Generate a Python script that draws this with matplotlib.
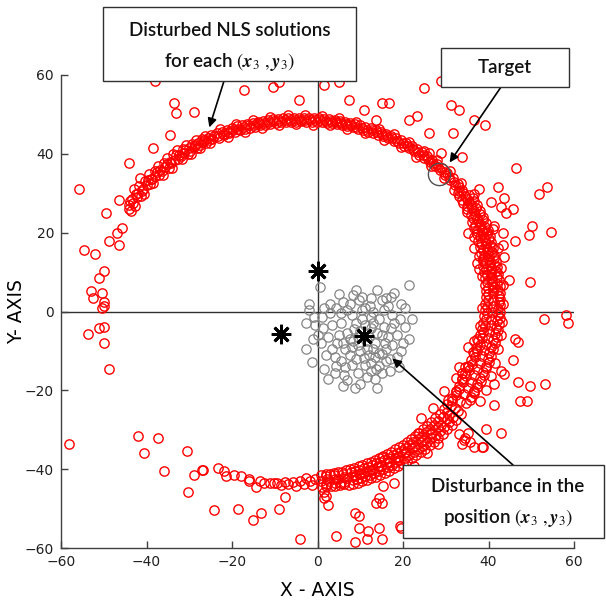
import numpy as np
import matplotlib
matplotlib.use('Agg')
import matplotlib.pyplot as plt
from matplotlib.patches import Rectangle

plt.rcParams['mathtext.fontset'] = 'stix'

# ---- data ----
# dense ring of NLS solutions (upper left part)
ring_upper_left = [(-44.2, 26.1), (-43.6, 25.6), (-43.9, 28.0), (-43.1, 27.4), (-42.5, 29.8), (-42.8, 26.7),
                   (-41.9, 30.0), (-41.4, 29.3), (-41.7, 31.9), (-40.8, 31.1), (-40.3, 33.1), (-40.6, 29.8),
                   (-39.7, 33.3), (-39.2, 32.4), (-39.5, 34.9), (-38.6, 33.7), (-38.1, 35.6), (-38.4, 32.7),
                   (-37.5, 35.5), (-37.0, 34.6), (-37.3, 37.0), (-36.4, 35.7), (-35.9, 37.6), (-36.2, 34.6),
                   (-35.3, 37.4), (-34.8, 36.5), (-35.1, 38.9), (-34.2, 37.6), (-33.7, 39.9), (-34.0, 36.5),
                   (-33.1, 39.6), (-32.6, 38.7), (-32.9, 40.9), (-32.0, 39.5), (-31.5, 41.3), (-31.8, 38.6),
                   (-30.9, 41.0), (-30.4, 40.0), (-30.7, 42.2), (-29.8, 40.8), (-29.3, 42.5), (-29.6, 39.9),
                   (-28.7, 42.2), (-28.2, 41.4), (-28.5, 43.4), (-27.6, 42.2), (-27.1, 43.7), (-27.4, 41.5),
                   (-26.5, 43.6), (-26.0, 42.7), (-26.3, 44.5), (-25.4, 43.5), (-24.9, 44.9), (-25.2, 42.8),
                   (-24.3, 44.6),
                   (-44.0, 27.0), (-43.3, 28.6), (-42.2, 29.0), (-41.1, 30.6), (-40.0, 32.0), (-39.0, 33.6),
                   (-37.9, 34.5), (-36.8, 36.0), (-35.6, 36.7), (-34.5, 38.0), (-33.4, 38.5), (-32.3, 39.6),
                   (-31.2, 40.3), (-30.1, 41.4), (-29.0, 41.7), (-27.9, 42.8), (-26.8, 43.0), (-25.7, 44.0),
                   (-24.6, 43.7)]

ring_top = [(-23.6, 45.2), (-23.0, 44.1), (-22.4, 45.6), (-21.8, 44.7), (-21.2, 46.1), (-20.6, 45.2),
            (-20.0, 46.6), (-19.4, 45.6), (-18.8, 47.0), (-18.2, 46.0), (-17.6, 47.3), (-17.0, 46.3),
            (-16.4, 47.6), (-15.8, 46.6), (-15.2, 47.9), (-14.6, 46.9), (-14.0, 48.1), (-13.4, 47.2),
            (-12.8, 48.4), (-12.2, 47.4), (-11.6, 48.6), (-11.0, 47.6), (-10.4, 48.8), (-9.8, 47.8),
            (-9.2, 48.9), (-8.6, 48.0), (-8.0, 49.0), (-7.4, 48.1), (-6.8, 49.1), (-6.2, 48.2),
            (-5.6, 49.1), (-5.0, 48.2), (-4.4, 49.2), (-3.8, 48.3), (-3.2, 49.1), (-2.6, 48.2),
            (-2.0, 49.1), (-1.4, 48.2), (-0.8, 49.0), (-0.2, 48.1), (0.4, 49.0), (1.0, 48.0),
            (1.6, 48.9), (2.2, 47.9), (2.8, 48.8), (3.4, 47.8), (4.0, 48.6), (4.6, 47.6),
            (5.2, 48.4), (5.8, 47.4), (6.4, 48.2), (7.0, 47.1), (7.6, 47.9), (8.2, 46.8),
            (8.8, 47.5), (9.4, 46.4), (10.0, 47.2), (10.6, 46.0), (11.2, 46.7), (11.8, 45.6),
            (-23.3, 44.5), (-22.1, 45.0), (-20.9, 45.5), (-19.7, 46.0), (-18.5, 46.4), (-17.3, 46.8),
            (-16.1, 47.2), (-14.9, 47.4), (-13.7, 47.7), (-12.5, 47.9), (-11.3, 48.1), (-10.1, 48.3),
            (-8.9, 48.4), (-7.7, 48.6), (-6.5, 48.6), (-5.3, 48.7), (-4.1, 48.7), (-2.9, 48.7),
            (-1.7, 48.6), (-0.5, 48.6), (0.7, 48.5), (1.9, 48.4), (3.1, 48.3), (4.3, 48.1),
            (5.5, 47.9), (6.7, 47.6), (7.9, 47.3), (9.1, 46.9), (10.3, 46.5), (11.5, 46.1),
            (-22.8, 46.3), (-19.0, 47.6), (-15.0, 48.6), (-11.0, 49.3), (-7.0, 49.8), (-3.0, 49.8),
            (1.0, 49.7), (5.0, 49.2), (9.0, 48.2), (-21.0, 44.3), (-17.0, 45.6), (-13.0, 46.6),
            (-9.0, 47.2), (-5.0, 47.5), (-1.0, 47.4), (3.0, 47.2), (7.0, 46.4), (11.0, 45.2)]

ring_upper_right = [(12.4, 46.6), (13.0, 45.4), (13.6, 46.0), (14.2, 44.9), (14.8, 45.6), (15.4, 44.4),
                    (16.0, 45.1), (16.6, 43.9), (17.2, 44.6), (17.8, 43.3), (18.4, 44.0), (19.0, 42.7),
                    (19.6, 43.4), (20.2, 42.1), (20.8, 42.7), (21.4, 41.4), (22.0, 42.0), (22.6, 40.6),
                    (23.2, 41.2), (23.8, 39.8), (24.4, 40.4), (25.0, 38.9), (25.6, 39.5), (26.2, 38.0),
                    (26.8, 38.5), (27.4, 36.9), (28.0, 37.5), (28.6, 35.8), (29.2, 36.3), (29.8, 34.6),
                    (30.4, 35.1), (31.0, 33.3), (31.6, 33.8), (32.2, 32.0), (32.8, 32.3), (33.2, 30.6),
                    (33.8, 30.9),
                    (12.7, 46.0), (13.9, 45.5), (15.1, 45.0), (16.3, 44.5), (17.5, 43.9), (18.7, 43.3),
                    (19.9, 42.7), (21.1, 42.0), (22.3, 41.3), (23.5, 40.5), (24.7, 39.7), (25.9, 38.7),
                    (27.1, 37.7), (28.3, 36.6), (29.5, 35.4), (30.7, 34.2), (31.9, 32.9), (33.0, 31.5),
                    (34.0, 30.0), (14.5, 46.4), (18.0, 45.0), (21.5, 43.0), (25.0, 40.6), (28.0, 38.4),
                    (31.0, 35.6), (33.5, 32.5), (15.5, 43.6), (19.5, 41.7), (23.0, 39.2), (26.5, 36.8),
                    (29.5, 33.8), (32.0, 30.8)]

ring_right = [(32.9, 30.0), (35.4, 29.5), (33.1, 29.2), (36.3, 28.8), (33.8, 28.4), (36.5, 28.0),
              (34.0, 27.6), (37.2, 27.1), (35.0, 26.8), (37.0, 26.3), (35.0, 26.0), (38.0, 25.6),
              (34.9, 25.2), (38.1, 24.7), (35.9, 24.4), (38.7, 24.0), (36.3, 23.6), (38.6, 23.1),
              (36.2, 22.8), (39.3, 22.4), (36.9, 22.0), (39.2, 21.5), (36.7, 21.2), (39.9, 20.8),
              (37.4, 20.4), (39.7, 19.9), (37.2, 19.6), (40.3, 19.2), (37.9, 18.8), (40.2, 18.3),
              (37.6, 18.0), (40.7, 17.6), (38.2, 17.2), (40.6, 16.7), (38.0, 16.4), (41.1, 16.0),
              (38.6, 15.6), (40.9, 15.1), (38.3, 14.8), (41.4, 14.4), (38.9, 14.0), (41.2, 13.5),
              (38.6, 13.2), (41.8, 12.8), (39.2, 12.4), (41.5, 11.9), (38.8, 11.6), (42.0, 11.2),
              (39.4, 10.8), (41.7, 10.3), (39.0, 10.0), (42.3, 9.6), (39.6, 9.2), (41.9, 8.7),
              (39.1, 8.4), (42.4, 8.0), (39.7, 7.6), (42.1, 7.1), (39.2, 6.8), (42.6, 6.4),
              (39.8, 6.0), (42.3, 5.5), (39.3, 5.2), (42.7, 4.8), (39.9, 4.4), (42.4, 3.9),
              (39.3, 3.6), (42.8, 3.2), (39.8, 2.8), (42.4, 2.3), (39.2, 2.0), (42.8, 1.6),
              (39.7, 1.2), (42.3, 0.7), (39.1, 0.4), (42.7, 0.0), (39.6, -0.4), (42.2, -0.9),
              (38.9, -1.2), (42.6, -1.6), (39.4, -2.0), (42.0, -2.5), (38.7, -2.8), (42.4, -3.2),
              (39.1, -3.6), (41.8, -4.1), (38.4, -4.4), (42.2, -4.8), (38.8, -5.2), (41.5, -5.7),
              (38.0, -6.0), (41.9, -6.4), (38.4, -6.8), (41.1, -7.3), (37.6, -7.6), (41.5, -8.0),
              (37.9, -8.4), (40.7, -8.9), (37.1, -9.2), (41.0, -9.6), (37.4, -10.0), (40.2, -10.5),
              (36.5, -10.8), (40.5, -11.2), (36.8, -11.6), (39.8, -12.1), (35.9, -12.4), (40.0, -12.8),
              (36.2, -13.2), (39.3, -13.7), (35.2, -14.0), (39.5, -14.4), (35.5, -14.8), (38.7, -15.3),
              (34.6, -15.6), (38.9, -16.0), (34.8, -16.4), (38.1, -16.9), (33.9, -17.2), (38.2, -17.6),
              (34.0, -18.0), (37.4, -18.5), (33.1, -18.8), (37.4, -19.2), (33.2, -19.6), (36.6, -20.1),
              (32.3, -20.4), (36.6, -20.8), (32.3, -21.2), (35.8, -21.7), (31.4, -22.0), (35.7, -22.4),
              (31.4, -22.8), (34.8, -23.3),
              (41.1, 4.6), (41.0, 3.0), (41.1, 1.4), (40.9, -0.2), (40.7, -1.8), (40.5, -3.4),
              (40.2, -5.0), (39.9, -6.6), (39.4, -8.2), (38.9, -9.8), (38.4, -11.4), (37.9, -13.0),
              (37.2, -14.6), (36.6, -16.2), (35.9, -17.8), (35.1, -19.4), (34.3, -21.0), (33.3, -22.6),
              (34.4, 29.4), (34.9, 28.6), (35.4, 27.8), (35.8, 27.0), (36.2, 26.2), (36.6, 25.4),
              (36.9, 24.6), (37.3, 23.8), (37.6, 23.0), (37.9, 22.2), (38.1, 21.4), (38.4, 20.6),
              (38.6, 19.8), (38.9, 19.0), (39.1, 18.2), (39.3, 17.4), (39.5, 16.6), (39.6, 15.8),
              (39.8, 15.0), (40.0, 14.2), (40.1, 13.4), (40.3, 12.6), (40.4, 11.8), (40.5, 11.0),
              (40.6, 10.2), (40.7, 9.4), (40.8, 8.6), (40.9, 7.8), (40.9, 7.0), (41.0, 6.2),
              (41.0, 5.4),
              (43.4, 2.0), (43.2, -2.6), (42.9, -6.0), (42.3, -9.6), (41.6, -13.0), (40.6, -16.4),
              (39.4, -19.8), (38.0, -22.6), (43.5, 6.8), (43.0, 11.0), (42.2, 16.0), (41.0, 21.0),
              (38.4, 1.0), (38.0, -3.6), (37.3, -7.0), (36.4, -10.4), (35.2, -13.8), (33.8, -17.0),
              (32.3, -20.2), (30.6, -22.4), (38.5, 9.0), (37.8, 14.0), (36.5, 19.0)]

ring_lower_right = [(30.4, -23.5), (33.6, -25.9), (32.2, -24.5), (29.5, -24.8), (32.5, -27.4), (30.8, -26.3),
                    (28.6, -26.0), (31.4, -28.8), (30.2, -27.2), (27.6, -27.1), (30.4, -29.9), (28.8, -28.7),
                    (26.6, -28.0), (29.4, -31.0), (28.2, -29.3), (25.7, -29.0), (28.3, -32.0), (26.8, -30.7),
                    (24.7, -29.8), (27.3, -33.0), (26.2, -31.2), (23.8, -30.7), (26.2, -33.9), (24.8, -32.5),
                    (22.8, -31.6), (25.2, -34.8), (24.2, -33.0), (21.9, -32.3), (24.1, -35.7), (22.8, -34.2),
                    (21.0, -33.1), (23.0, -36.5), (22.2, -34.6), (20.0, -33.8), (22.0, -37.2), (20.8, -35.7),
                    (19.1, -34.4), (20.9, -38.0), (20.2, -36.0), (18.1, -35.0), (19.9, -38.6), (18.8, -37.0),
                    (17.2, -35.6), (18.8, -39.2), (18.2, -37.2), (16.2, -36.2), (17.8, -39.8), (16.8, -38.2),
                    (15.3, -36.6), (16.7, -40.4), (16.2, -38.3), (14.3, -37.1), (15.7, -40.9), (14.8, -39.2),
                    (13.4, -37.6), (14.6, -41.4), (14.2, -39.3), (12.4, -38.1), (13.6, -41.9), (12.8, -40.2),
                    (11.5, -38.5), (12.5, -42.3), (12.2, -40.2), (10.5, -38.9), (11.5, -42.7), (10.8, -41.0),
                    (9.6, -39.3), (10.4, -43.1), (10.2, -41.0), (8.6, -39.6), (9.4, -43.4), (8.8, -41.7),
                    (7.7, -39.9), (8.3, -43.7), (8.2, -41.6), (6.7, -40.1), (7.3, -43.9), (6.8, -42.2),
                    (5.8, -40.6), (6.2, -43.8), (6.2, -42.0), (4.8, -40.8), (5.2, -44.0), (4.8, -42.6),
                    (3.9, -41.0), (4.1, -44.2), (4.2, -42.4), (2.9, -41.2), (3.1, -44.2), (2.8, -42.9),
                    (1.9, -41.3), (2.1, -44.3), (2.2, -42.6), (0.9, -41.4), (1.1, -44.4), (0.8, -43.1),
                    (31.2, -24.1), (32.8, -25.3), (29.3, -26.7), (30.7, -28.1), (27.3, -28.8), (28.7, -30.2),
                    (25.4, -30.6), (26.6, -32.2), (23.4, -32.4), (24.6, -34.0), (21.5, -33.9), (22.5, -35.7),
                    (19.5, -35.3), (20.5, -37.1), (17.6, -36.5), (18.4, -38.3), (15.6, -37.6), (16.4, -39.4),
                    (13.7, -38.5), (14.3, -40.5), (11.7, -39.4), (12.3, -41.4), (9.8, -40.2), (10.2, -42.2),
                    (7.8, -40.8), (8.2, -42.8), (5.9, -41.2), (6.1, -43.2), (3.9, -41.6), (4.1, -43.6),
                    (1.9, -41.8), (2.1, -43.8), (30.2, -25.4), (31.8, -26.8), (28.3, -27.8), (29.7, -29.2),
                    (26.3, -29.7), (27.7, -31.3), (24.4, -31.5), (25.6, -33.1), (22.4, -33.2), (23.6, -34.8),
                    (20.5, -34.6), (21.5, -36.4), (18.6, -35.9), (19.4, -37.7), (16.6, -37.1), (17.4, -38.9),
                    (14.7, -38.1), (15.3, -39.9), (12.7, -39.0), (13.3, -41.0), (10.8, -39.8), (11.2, -41.8),
                    (8.8, -40.5), (9.2, -42.5)]

ring_bottom = [(-0.6, -42.6), (-1.2, -44.0), (-1.8, -43.0), (-2.6, -42.3), (-3.2, -43.8), (-4.0, -43.1),
               (-5.0, -44.2), (-5.8, -43.3), (-6.8, -43.8), (-7.6, -43.2), (-8.5, -44.0), (-9.4, -43.4),
               (-10.2, -43.6), (-11.0, -43.4), (-12.4, -43.4), (-13.5, -43.0), (-14.5, -44.4), (-16.1, -42.4),
               (-16.0, -43.0), (-17.8, -41.8), (-19.6, -41.6), (-21.3, -41.8), (-21.8, -40.4), (-23.2, -39.6),
               (-26.7, -40.1), (-27.1, -40.1), (-28.8, -41.6)]

# scattered (badly disturbed) solutions
red_scatter = [(-55.9, 31.2), (-38.1, 58.6), (-33.5, 53.0), (-33.0, 50.3), (-28.8, 50.5), (-34.6, 44.7),
               (-38.4, 41.4), (-44.2, 37.8), (-46.5, 28.2), (-49.4, 24.9), (-47.0, 19.8), (-48.7, 18.0),
               (-45.8, 21.3), (-46.5, 16.8), (-43.0, 31.2), (-41.6, 33.8), (-17.1, 56.1), (-10.3, 56.9),
               (-8.9, 58.1), (-4.4, 53.6), (1.6, 57.4), (5.1, 58.1), (7.3, 53.6), (10.8, 51.0),
               (13.8, 48.5), (15.0, 53.0), (16.8, 52.8), (21.5, 48.5), (23.2, 49.7), (26.0, 45.2),
               (25.0, 56.6), (29.0, 58.6), (31.3, 52.3), (33.0, 51.0), (31.6, 45.4), (36.7, 48.5),
               (39.1, 47.2), (33.7, 39.1), (29.0, 40.1), (26.0, 40.1), (46.5, 36.3), (53.6, 31.7),
               (51.9, 29.9), (42.3, 31.7), (43.7, 28.9), (37.7, 31.2), (36.7, 29.9), (40.7, 27.7),
               (43.0, 26.4), (45.8, 26.1), (44.2, 25.1), (41.2, 21.8), (43.5, 19.8), (50.1, 21.8),
               (49.4, 19.3), (54.7, 20.1), (46.1, 18.0), (43.5, 16.8), (35.3, 19.8), (36.5, 16.2),
               (43.7, 13.7), (37.2, 12.2), (37.7, 10.9), (44.9, 8.1), (49.8, 7.6), (38.8, 12.9),
               (-54.7, 15.5), (-52.0, 14.7), (-50.0, 10.4), (-51.0, 8.4), (-53.0, 5.3), (-50.5, 4.6),
               (-52.4, 3.3), (-50.0, 2.3), (-50.5, 1.0), (-50.0, 1.5), (-50.0, -4.0), (-51.0, -4.3),
               (-53.6, -5.6), (-50.0, -8.1), (-48.7, -14.7), (-58.2, -33.5),
               (-41.9, -31.5), (-37.4, -32.2), (-40.7, -36.0), (-36.0, -40.4), (-30.6, -35.5), (-30.4, -45.7),
               (-24.3, -50.3), (-18.7, -50.0), (-15.0, -52.8), (-13.3, -51.0), (-9.1, -50.0), (-7.5, -47.0),
               (-4.2, -57.6),
               (2.1, -46.7), (2.5, -49.2), (4.4, -56.9), (8.7, -51.0), (9.8, -51.8), (9.8, -54.8),
               (11.9, -55.6), (14.3, -55.0), (11.5, -57.6), (8.7, -58.6), (14.3, -47.2), (13.8, -48.5),
               (1.6, -45.9), (1.6, -47.2), (19.6, -54.8), (15.4, -44.2), (18.0, -43.4), (15.0, -48.5),
               (19.2, -54.3), (15.0, -57.6),
               (23.6, -30.7), (24.3, -26.9), (27.1, -24.4), (29.7, -20.1), (33.2, -14.2), (32.5, -16.8),
               (15.0, -37.0), (11.5, -40.4), (9.6, -41.1), (5.6, -43.4), (35.3, -9.1), (36.5, -7.4),
               (34.4, -14.2), (33.7, -15.5), (36.7, -20.1),
               (18.9, -37.8), (22.5, -39.1), (25.5, -36.0), (28.3, -33.5), (33.7, -33.5), (33.0, -31.0),
               (39.5, -29.8), (43.0, -30.7), (34.4, -32.0), (35.3, -30.7), (36.7, -34.5), (38.8, -34.5),
               (41.4, -23.6), (41.2, -18.3), (47.3, -22.6), (48.9, -22.6), (47.0, -18.0), (49.8, -18.8),
               (53.1, -18.3), (43.0, -15.0), (43.7, -15.8), (45.8, -12.4), (46.1, -6.9), (47.0, -7.8),
               (52.9, -1.8), (58.2, -1.0), (58.7, -2.8), (34.2, -32.7), (35.6, -33.2), (38.4, -34.5)]

# disturbed positions of (x3, y3)
gray_pts = [(0.5, 6.1), (21.3, 6.6), (18.0, 4.8), (17.3, 3.6), (15.0, 2.8), (8.4, 4.1), (10.3, 3.6),
            (9.6, 2.8), (12.2, 1.5), (-1.9, 2.0), (1.6, 1.0), (4.4, 0.8), (6.8, 0.3), (-2.6, -3.0),
            (-0.9, -1.5), (1.4, -4.3), (-2.6, -9.4), (-1.4, -12.9), (4.4, -13.7), (6.3, -16.2), (8.7, -19.3),
            (13.8, -14.5), (12.6, -15.0), (14.3, -13.7), (21.5, -6.9), (19.6, -9.9), (19.2, -1.8), (17.3, -4.3),
            (15.0, -10.7), (8.0, -9.1), (3.3, -9.4), (5.6, -2.8), (8.4, -7.4), (12.6, -4.1), (15.7, -7.9),
            (10.8, -11.7), (0.9, -8.1), (9.0, -3.0), (10.5, -2.0), (12.0, -6.5), (13.5, -8.0), (9.5, -8.5),
            (11.5, -9.5), (14.0, -5.5), (7.0, -5.5), (6.0, -8.0), (10.0, -5.0), (13.0, -3.0), (15.5, -4.0),
            (16.5, -6.5), (11.0, -13.5), (9.0, -12.0), (7.5, -11.0), (5.0, -6.0), (3.5, -3.5), (2.5, -6.5),
            (4.0, -11.5), (6.5, -14.0), (12.0, -11.0), (14.5, -10.5), (17.5, -8.5), (18.5, -11.5), (16.0, -12.5),
            (13.0, 0.0), (11.0, 1.0), (8.0, -1.0), (6.0, 2.5), (3.0, 2.0), (15.5, 0.5), (17.5, -1.0),
            (19.5, 2.0), (20.5, -4.0), (18.5, -6.0), (9.5, -15.5), (11.5, -16.5), (7.0, -17.5), (10.0, -18.5),
            (13.5, -17.0), (15.0, -15.5), (2.0, -11.0), (0.0, -6.0), (-0.5, -3.5), (-2.0, 0.5), (1.0, -1.5),
            (5.5, -0.5), (7.5, 2.0), (12.5, 3.5), (14.0, 5.5), (16.5, 1.5), (9.0, 5.5), (5.0, 4.5),
            (22.0, -2.0), (20.0, -8.0), (17.0, -15.0), (4.0, -15.5), (2.5, -17.0), (8.5, -4.5), (11.5, -7.5),
            (10.0, -10.0), (13.0, -9.5), (6.5, -9.5), (14.5, -2.0), (16.0, -9.5), (8.0, -13.5), (12.5, -1.5),
            (3.0, -0.5), (18.0, -3.0), (5.5, -12.5), (11.0, -3.5), (9.5, -6.5), (12.5, -13.0), (15.0, -6.0),
            (7.5, -7.0), (4.5, -8.0), (17.0, -12.0), (10.5, 0.5), (13.5, -11.5), (19.0, -14.0), (14.0, -19.5),
            (1.5, -14.5), (-1.0, -7.0), (20.5, 1.0), (6.0, -19.0), (16.0, 3.5)]

anchor_x = [0.0, -8.5, 10.8]
anchor_y = [10.3, -5.7, -6.1]
target_x = [28.5]
target_y = [34.8]

ticks = [-60, -40, -20, 0, 20, 40, 60]

red_pts = ring_upper_left + ring_top + ring_upper_right + ring_right + ring_lower_right + ring_bottom + red_scatter
red_x, red_y = np.array(red_pts).T
gray_x, gray_y = np.array(gray_pts).T

W, H = 606, 603


def fpos(px, py):
    # pixel position in the picture -> figure fraction
    return px / W, 1 - py / H


fig = plt.figure(figsize=(W / 100, H / 100), dpi=100)
ax = fig.add_axes([61 / W, 55 / H, 513 / W, 473 / H])

ax.axhline(0, color='#303030', lw=1.0, zorder=1)
ax.axvline(0, color='#303030', lw=1.0, zorder=1)

ax.plot(red_x, red_y, 'o', ms=6.7, mfc='none', mec='#ff0000', mew=1.0, zorder=2)
ax.plot(gray_x, gray_y, 'o', ms=6.7, mfc='none', mec='#858585', mew=0.9, zorder=3)
ax.plot(anchor_x, anchor_y, ls='none', marker=(8, 2, 0), ms=14, mec='black', mew=2.0, zorder=4)
ax.plot(target_x, target_y, 'o', ms=16, mfc='none', mec='#505050', mew=1.0, zorder=4)

ax.set_xlim(-60, 60)
ax.set_ylim(-60, 60)
ax.set_xticks(ticks)
ax.set_yticks(ticks)
for s in ['top', 'right']:
    ax.spines[s].set_visible(False)
for s in ['left', 'bottom']:
    ax.spines[s].set_color('#404040')
    ax.spines[s].set_linewidth(1.0)
ax.tick_params(direction='in', length=5, width=1, color='#404040', labelsize=10,
               labelcolor='#202020', pad=5)

ax.set_xlabel('X - AXIS', fontsize=13.5, va='center')
ax.set_ylabel('Y- AXIS', fontsize=13.5, va='center')
ax.xaxis.set_label_coords(0.5, (548 - 590) / 473)
ax.yaxis.set_label_coords((16.5 - 61) / 513, 0.5)

# annotation boxes
boxes = [(103, 7, 356, 81), (441, 48, 569, 87), (403, 465, 604, 538)]
for x0, y0, x1, y1 in boxes:
    fx0, fy1 = fpos(x0, y1)
    fig.add_artist(Rectangle((fx0, fy1), (x1 - x0) / W, (y1 - y0) / H, transform=fig.transFigure,
                             facecolor='white', edgecolor='#303030', lw=1.0, zorder=10))

tfont = dict(family='Lato', fontsize=13.5, fontweight='semibold', color='#111111',
             ha='center', va='center', zorder=11)
fig.text(*fpos(229.5, 30), 'Disturbed NLS solutions', **tfont)
fig.text(*fpos(229.5, 62), r'for each $(\mathbfit{x}_3\ ,\mathbfit{y}_3)$', **tfont)
fig.text(*fpos(505, 67), 'Target', **tfont)
fig.text(*fpos(508, 487), 'Disturbance in the', **tfont)
fig.text(*fpos(508, 518), r'position $(\mathbfit{x}_3\ ,\mathbfit{y}_3)$', **tfont)

arrows = [((-25.3, 46.7), (224, 81)), ((30.9, 37.8), (501, 87)), ((17.5, -11.9), (513, 465))]
for tip, start in arrows:
    ax.annotate('', xy=tip, xycoords='data', xytext=fpos(*start), textcoords='figure fraction',
                arrowprops=dict(arrowstyle='-|>', color='black', lw=1.2, mutation_scale=13,
                                shrinkA=0, shrinkB=0),
                annotation_clip=False, zorder=9)

fig.savefig('out.png', dpi=100)
